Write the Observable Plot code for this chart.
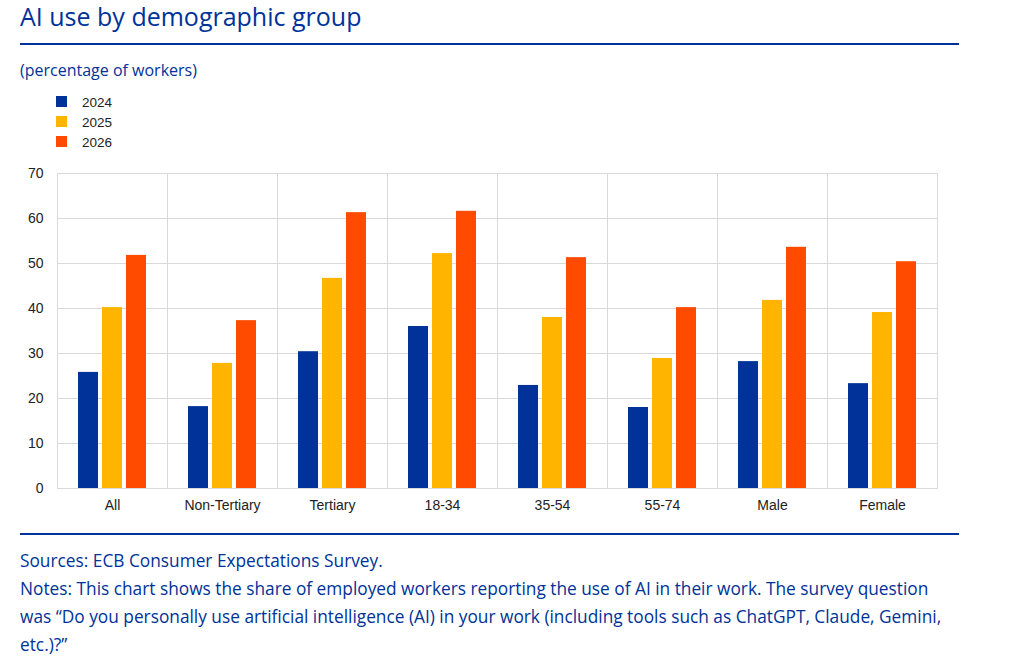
<!DOCTYPE html>
<html>
<head>
<meta charset="utf-8">
<script src="https://cdn.jsdelivr.net/npm/d3@7"></script>
<script src="https://cdn.jsdelivr.net/npm/@observablehq/plot@0.6"></script>
<style>
  body { margin: 0; background: #fff; font-family: "Open Sans", sans-serif; color: #003299; }
  #wrap { position: relative; width: 1011px; height: 663px; }
  h1 { position: absolute; left: 20px; top: 0; margin: 0; font-weight: 400; font-size: 25px; line-height: 32px; }
  .rule { position: absolute; left: 20px; width: 939px; height: 2px; background: #003299; }
  .sub { position: absolute; left: 20px; top: 59px; font-size: 16px; }
  #legend { position: absolute; left: 56px; top: 94px; font: 13.5px "Liberation Sans", Arial, sans-serif; color: #222; }
  #legend div { height: 20px; line-height: 18px; }
  #legend span { display: inline-block; width: 11px; height: 11px; margin-right: 15px; vertical-align: 0px; }
  #chart { position: absolute; left: 0; top: 160px; }
  .notes { position: absolute; left: 20px; top: 547px; width: 938px; font-size: 17.3px; line-height: 28px; }
</style>
</head>
<body>
<div id="wrap">
  <h1>AI use by demographic group</h1>
  <div class="rule" style="top:43px"></div>
  <div class="sub">(percentage of workers)</div>
  <div id="legend"></div>
  <div id="chart"></div>
  <div class="rule" style="top:533px"></div>
  <div class="notes">Sources: ECB Consumer Expectations Survey.<br>Notes: This chart shows the share of employed workers reporting the use of AI in their work. The survey question was “Do you personally use artificial intelligence (AI) in your work (including tools such as ChatGPT, Claude, Gemini, etc.)?”</div>
</div>
<script>
const groups = ["All", "Non-Tertiary", "Tertiary", "18-34", "35-54", "55-74", "Male", "Female"];
const years = ["2024", "2025", "2026"];
const colors = ["#003299", "#ffb400", "#ff4b00"];
const v2024 = [25.8, 18.2, 30.4, 36.0, 22.9, 18.0, 28.2, 23.3];
const v2025 = [40.2, 27.8, 46.7, 52.2, 38.0, 28.9, 41.8, 39.1];
const v2026 = [51.8, 37.3, 61.3, 61.6, 51.3, 40.2, 53.6, 50.4];
const yTicks = [0, 10, 20, 30, 40, 50, 60, 70];

const series = [v2024, v2025, v2026];
const rows = [];
groups.forEach((g, i) => years.forEach((y, j) => rows.push({group: g, year: y, value: series[j][i]})));

d3.select("#legend").selectAll("div").data(years).join("div")
  .html((d, i) => `<span style="background:${colors[i]}"></span>${d}`);

const chart = Plot.plot({
  width: 960,
  height: 358,
  marginLeft: 56,
  marginRight: 23,
  marginTop: 13,
  marginBottom: 30,
  style: {fontFamily: "'Liberation Sans', Arial, sans-serif", fontSize: "14px", color: "#222"},
  fx: {domain: groups, padding: 0, label: null, axis: "bottom", tickSize: 0, tickPadding: 12},
  x: {domain: years, paddingInner: 0.17, paddingOuter: 0.85, axis: null},
  y: {domain: [0, 70], ticks: yTicks, label: null, tickSize: 0, tickPadding: 14},
  color: {domain: years, range: colors},
  marks: [
    Plot.gridY(yTicks, {stroke: "#d9d9d9", strokeOpacity: 1}),
    Plot.frame({stroke: "#d9d9d9"}),
    Plot.barY(rows, {fx: "group", x: "year", y: "value", fill: "year"})
  ]
});
document.getElementById("chart").append(chart);
</script>
</body>
</html>
